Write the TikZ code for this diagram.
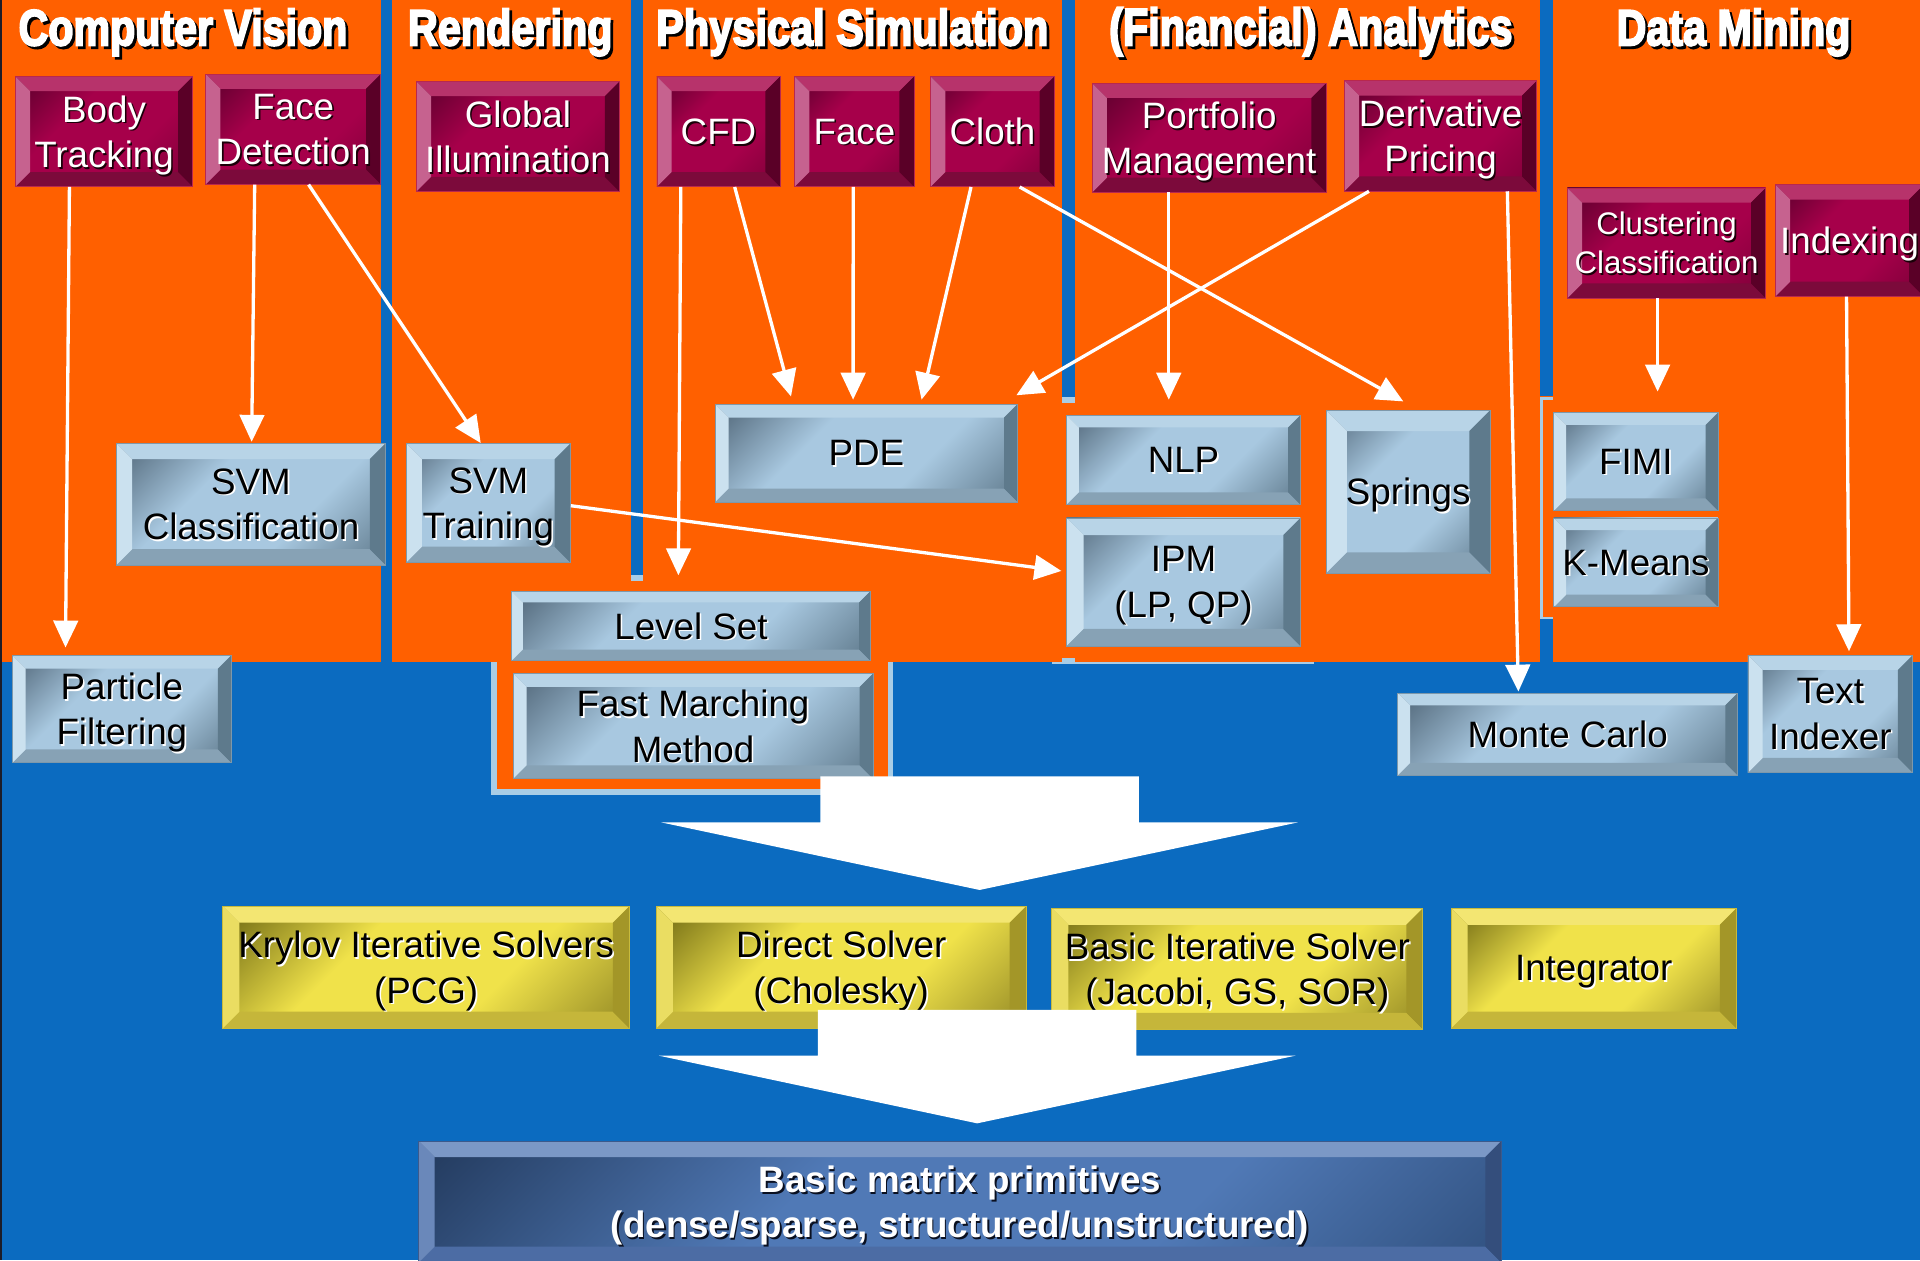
\documentclass[tikz,border=0pt]{standalone}
\usepackage{fontspec}
\setmainfont{Liberation Sans}
\newfontfamily\ttlfont{Liberation Sans}[FakeBold=4]
\usepackage{graphicx}
\usetikzlibrary{arrows.meta}

% page colours
\definecolor{bgblue}{HTML}{0B6BC0}
\definecolor{orng}{HTML}{FF6000}
\definecolor{tick}{HTML}{A9CDE6}
\definecolor{edgedark}{HTML}{1C1C28}
% maroon buttons
\definecolor{mrtl}{HTML}{5A002C}\definecolor{mrmd}{HTML}{A6004A}\definecolor{mrbr}{HTML}{7A0037}
\definecolor{mrtp}{HTML}{B7336B}\definecolor{mrbt}{HTML}{7C0A3B}\definecolor{mrlf}{HTML}{C6628F}
\definecolor{mrrt}{HTML}{5A0027}\definecolor{mred}{HTML}{B8284E}\definecolor{mrtx}{HTML}{FFFFFF}
\definecolor{mrsh}{HTML}{1A0008}
% steel-blue buttons
\definecolor{bltl}{HTML}{52687A}\definecolor{blmd}{HTML}{A8C8E0}\definecolor{blbr}{HTML}{5C7688}
\definecolor{bltp}{HTML}{B8D4E7}\definecolor{blbt}{HTML}{87A2B5}\definecolor{bllf}{HTML}{CBE1EF}
\definecolor{blrt}{HTML}{5E7A8C}\definecolor{bled}{HTML}{7E98AA}\definecolor{bltx}{HTML}{000000}
\definecolor{blsh}{HTML}{FFFFFF}
% yellow buttons
\definecolor{yltl}{HTML}{706A14}\definecolor{ylmd}{HTML}{F0E24A}\definecolor{ylbr}{HTML}{908624}
\definecolor{yltp}{HTML}{F3E672}\definecolor{ylbt}{HTML}{C5B63A}\definecolor{yllf}{HTML}{EADD62}
\definecolor{ylrt}{HTML}{A39628}\definecolor{yled}{HTML}{C8BA3C}\definecolor{yltx}{HTML}{000000}
\definecolor{ylsh}{HTML}{FFFFFF}
% navy base button
\definecolor{mxtl}{HTML}{243C60}\definecolor{mxmd}{HTML}{5079B6}\definecolor{mxbr}{HTML}{30507E}
\definecolor{mxtp}{HTML}{7B98C6}\definecolor{mxbt}{HTML}{4C6CA4}\definecolor{mxlf}{HTML}{6A88BA}
\definecolor{mxrt}{HTML}{344E7C}\definecolor{mxed}{HTML}{3C5A8C}\definecolor{mxtx}{HTML}{FFFFFF}
\definecolor{mxsh}{HTML}{0A1020}

% diagonal face shadings: dark upper-left corner, bright middle, darker lower-right
\pgfdeclarehorizontalshading{mrface}{100bp}{color(0bp)=(mrtl); color(16bp)=(mrtl); color(38bp)=(mrmd); color(62bp)=(mrmd); color(86bp)=(mrbr); color(100bp)=(mrbr)}
\pgfdeclarehorizontalshading{blface}{100bp}{color(0bp)=(bltl); color(16bp)=(bltl); color(38bp)=(blmd); color(62bp)=(blmd); color(86bp)=(blbr); color(100bp)=(blbr)}
\pgfdeclarehorizontalshading{ylface}{100bp}{color(0bp)=(yltl); color(16bp)=(yltl); color(38bp)=(ylmd); color(62bp)=(ylmd); color(86bp)=(ylbr); color(100bp)=(ylbr)}
\pgfdeclarehorizontalshading{mxface}{100bp}{color(0bp)=(mxtl); color(16bp)=(mxtl); color(40bp)=(mxmd); color(64bp)=(mxmd); color(86bp)=(mxbr); color(100bp)=(mxbr)}

\tikzset{
  boxtext/.style={font=\fontsize{30}{37}\selectfont, align=center, inner sep=0pt, text depth=0pt},
  conn/.style={draw=white, line width=2.7pt, -{Triangle[width=20pt,length=22pt]}},
}

% bevelled button: name, palette, bevel, x1, y1, x2, y2, node options, text
\newcommand\bvbox[9]{%
  \shade[shading=#2face, shading angle=-45] (#4,#5) rectangle (#6,#7);
  \fill[#2tp] (#4,#5) -- (#6,#5) -- ({#6-#3},{#5+#3}) -- ({#4+#3},{#5+#3}) -- cycle;
  \fill[#2bt] (#4,#7) -- (#6,#7) -- ({#6-#3},{#7-#3}) -- ({#4+#3},{#7-#3}) -- cycle;
  \fill[#2lf] (#4,#5) -- ({#4+#3},{#5+#3}) -- ({#4+#3},{#7-#3}) -- (#4,#7) -- cycle;
  \fill[#2rt] (#6,#5) -- ({#6-#3},{#5+#3}) -- ({#6-#3},{#7-#3}) -- (#6,#7) -- cycle;
  \draw[#2ed, line width=0.7pt] (#4,#5) rectangle (#6,#7);
  \node[boxtext, text=#2sh, #8] (#1-sh) at ({(#4+#6)/2+1.3},{(#5+#7)/2+1.3}) {#9};
  \node[boxtext, text=#2tx, minimum width={#6-#4}, minimum height={#7-#5}, #8] (#1) at ({(#4+#6)/2},{(#5+#7)/2}) {#9};
}

% column heading with drop shadow: name, left x, width, height, text
\newcommand\heading[5]{%
  \node[anchor=base west, inner sep=0pt, text=black] (#1-sh) at ({#2+2.2},39.2) {\resizebox{#3pt}{#4pt}{\ttlfont\bfseries #5}};
  \node[anchor=base west, inner sep=0pt, text=white] (#1) at (#2,37) {\resizebox{#3pt}{#4pt}{\ttlfont\bfseries #5}};
}

\begin{document}
\begin{tikzpicture}[x=1pt,y=-1pt]
\useasboundingbox (0,0) rectangle (1568,1029);
\clip (0,0) rectangle (1568,1029);
\fill[bgblue] (0,0) rectangle (1568,1029);
\fill[edgedark] (0,0) rectangle (1.5,1029);

% application columns
\fill[orng] (1.5,0) rectangle (311.5,540.5);
\fill[orng] (320.5,0) rectangle (1568,540.5);
\fill[bgblue] (515,0) rectangle (525.4,469.6);
\fill[tick] (515,469.6) rectangle (525.4,474.5);
\fill[bgblue] (867.6,0) rectangle (877.7,324.5);
\fill[tick] (867.6,324.5) rectangle (877.7,329);
\fill[tick] (867.6,537) rectangle (877.7,540.5);
\fill[tick] (859,540.5) rectangle (1073,542);
\fill[bgblue] (1257.6,0) rectangle (1268,323.4);
\fill[tick] (1258,324.5) rectangle (1268,326.7);
\fill[tick] (1258,326.7) rectangle (1260.4,505.8);
\fill[tick] (1258,503.6) rectangle (1268,505.8);
\fill[bgblue] (1257.6,505.8) rectangle (1268,540.5);
% backing under the level-set group
\fill[tick] (400.7,540.5) rectangle (729.3,649.3);
\fill[orng] (405.6,540.5) rectangle (725.5,644.4);

% column headings
\heading{hcv}{15}{268.4}{30}{Computer Vision}
\heading{hrd}{333}{167}{30}{Rendering}
\heading{hps}{535.7}{320.3}{30}{Physical Simulation}
\heading{hfa}{905.6}{329.4}{31}{(Financial) Analytics}
\heading{hdm}{1320}{191}{30}{Data Mining}

% applications
\bvbox{bt}{mr}{12}{12.5}{62.5}{157.5}{152.5}{}{Body\\Tracking}
\bvbox{fd}{mr}{12}{168}{60.5}{311}{150.5}{}{Face\\Detection}
\bvbox{gi}{mr}{12}{340}{66.5}{506}{156.5}{}{Global\\Illumination}
\bvbox{cfd}{mr}{12}{536.5}{62.5}{637}{152.5}{}{CFD}
\bvbox{fc}{mr}{12}{649}{62.5}{746.5}{152.5}{}{Face}
\bvbox{cl}{mr}{12}{760}{62.5}{861}{152.5}{}{Cloth}
\bvbox{pm}{mr}{12}{892}{68}{1083}{157}{}{Portfolio\\Management}
\bvbox{dp}{mr}{12}{1098}{66}{1255}{156}{}{Derivative\\Pricing}
\bvbox{cc}{mr}{12}{1280}{153.5}{1442}{243.5}{font=\fontsize{25.5}{32}\selectfont}{Clustering\\Classification}
\bvbox{ix}{mr}{12}{1450}{151}{1571}{242}{}{Indexing}

% kernels
\bvbox{svmc}{bl}{13}{95}{362}{315}{461.5}{}{SVM\\Classification}
\bvbox{svmt}{bl}{13}{331.6}{362}{466}{459.5}{}{SVM\\Training}
\bvbox{pde}{bl}{11}{584}{330}{831}{410}{}{PDE}
\bvbox{ls}{bl}{9}{418}{483}{710.6}{539.5}{}{Level Set}
\bvbox{fmm}{bl}{11}{419}{550}{713}{636}{}{Fast Marching\\Method}
\bvbox{pf}{bl}{11}{10}{535}{189}{623}{}{Particle\\Filtering}
\bvbox{nlp}{bl}{10}{871}{339}{1062}{412}{}{NLP}
\bvbox{ipm}{bl}{14}{871}{423}{1062}{527.5}{}{IPM\\(LP, QP)}
\bvbox{spr}{bl}{17}{1083}{335}{1217}{468}{}{Springs}
\bvbox{fimi}{bl}{10}{1269}{337}{1403}{417}{}{FIMI}
\bvbox{km}{bl}{10}{1269}{423}{1403}{495.6}{}{K-Means}
\bvbox{mc}{bl}{10}{1141.6}{566}{1419}{633}{}{Monte Carlo}
\bvbox{ti}{bl}{12}{1427.5}{535}{1562}{631}{}{Text\\Indexer}

% dependencies
\draw[conn] ([xshift=-28.3pt]bt.south) -- ([xshift=-46pt,yshift=6pt]pf.north);
\draw[conn] ([xshift=-31.5pt]fd.south) -- ([xshift=0.5pt,yshift=1pt]svmc.north);
\draw[conn] ([xshift=12.5pt]fd.south) -- ([xshift=-6.2pt]svmt.north);
\draw[conn] ([xshift=-30.75pt]cfd.south) -- ([xshift=-10.3pt,yshift=13pt]ls.north);
\draw[conn] ([xshift=13.25pt]cfd.south) -- ([xshift=-61.5pt,yshift=6pt]pde.north);
\draw[conn] ([xshift=-1pt]fc.south) -- ([xshift=-10.8pt,yshift=3.4pt]pde.north);
\draw[conn] ([xshift=-17.5pt]cl.south) -- ([xshift=45.1pt,yshift=3.4pt]pde.north);
\draw[conn] ([xshift=22.2pt]cl.south) -- ([xshift=-4pt,yshift=7pt]spr.north);
\draw[conn] ([xshift=-58.5pt]dp.south) -- ([xshift=122.5pt,yshift=7pt]pde.north);
\draw[conn] ([xshift=-33pt]pm.south) -- ([xshift=-12pt,yshift=12.4pt]nlp.north);
\draw[conn] ([xshift=54.5pt]dp.south) -- ([xshift=-40.3pt,yshift=1pt]mc.north);
\draw[conn] ([xshift=-7.3pt]cc.south) -- ([xshift=17.7pt,yshift=17pt]fimi.north);
\draw[conn] ([xshift=-2.5pt]ix.south) -- ([xshift=15.25pt,yshift=3pt]ti.north);
\draw[conn] ([yshift=-2.25pt]svmt.east) -- ([xshift=-4pt,yshift=9pt]ipm.west);

% first block arrow
\fill[white] (670,634) -- (930,634) -- (930,671.6) -- (1060,671.6) -- (800,726.8)
  -- (540,671.6) -- (670,671.6) -- cycle;

% solvers
\bvbox{kr}{yl}{13.5}{182}{740}{514}{839.7}{}{Krylov Iterative Solvers\\(PCG)}
\bvbox{ds}{yl}{13.5}{536}{740}{838}{839.7}{}{Direct Solver\\(Cholesky)}
\bvbox{bi}{yl}{13.5}{859}{741.7}{1162}{840.6}{}{Basic Iterative Solver\\(Jacobi, GS, SOR)}
\bvbox{ig}{yl}{13.5}{1185}{741.7}{1418}{839.7}{}{Integrator}

% second block arrow
\fill[white] (668,824.8) -- (928,824.8) -- (928,862.1) -- (1058,862.1) -- (798,917.4)
  -- (538,862.1) -- (668,862.1) -- cycle;

% primitives
\bvbox{mx}{mx}{13}{342}{932}{1226}{1031}{font=\fontsize{30}{37}\selectfont\bfseries}{Basic matrix primitives\\(dense/sparse, structured/unstructured)}
\end{tikzpicture}
\end{document}
